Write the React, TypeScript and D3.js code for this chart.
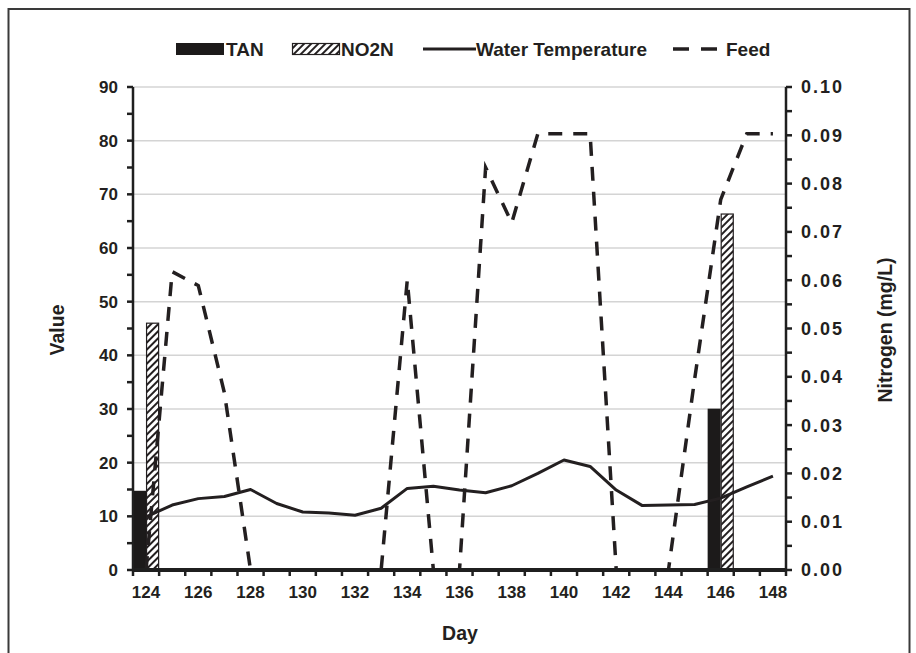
import * as d3 from "d3";
import { useEffect, useRef } from "react";

const days = [124, 125, 126, 127, 128, 129, 130, 131, 132, 133, 134, 135, 136, 137, 138, 139, 140, 141, 142, 143, 144, 145, 146, 147, 148];
const waterTemp = [9.9, 12.1, 13.3, 13.7, 15.0, 12.4, 10.8, 10.6, 10.2, 11.5, 15.2, 15.6, 14.9, 14.4, 15.7, 18.0, 20.5, 19.3, 14.9, 12.0, 12.1, 12.2, 13.4, 15.5, 17.5];
const feed = [0, 55.6, 53, 33, 0, 0, 0, 0, 0, 0, 54, 0, 0, 75, 64.7, 81.3, 81.3, 81.3, 0, 0, 0, 35.5, 69, 81.3, 81.3];
const barDays = [124, 146];
const tan = [0.0164, 0.0334];
const no2n = [0.0511, 0.0737];
const leftTicks = [0, 10, 20, 30, 40, 50, 60, 70, 80, 90];
const rightTicks = [0, 0.01, 0.02, 0.03, 0.04, 0.05, 0.06, 0.07, 0.08, 0.09, 0.1];
const dayLabels = [124, 126, 128, 130, 132, 134, 136, 138, 140, 142, 144, 146, 148];

const W = 916;
const H = 653;
const ink = "#231f20";
const font = "'Liberation Sans', Arial, sans-serif";

export default function App() {
  const svgRef = useRef<SVGSVGElement | null>(null);

  useEffect(() => {
    const margin = { top: 87, right: 130, bottom: 83, left: 133 };
    const svg = d3.select(svgRef.current);
    svg.selectAll("*").remove();

    const x = d3
      .scaleBand<number>()
      .domain(days)
      .range([margin.left, W - margin.right])
      .padding(0);
    const xSub = d3
      .scaleBand<string>()
      .domain(["TAN", "NO2N"])
      .range([0, x.bandwidth()])
      .padding(0);
    const yL = d3.scaleLinear().domain([0, 90]).range([H - margin.bottom, margin.top]);
    const yR = d3.scaleLinear().domain([0, 0.1]).range([H - margin.bottom, margin.top]);
    const cx = (d: number) => (x(d) as number) + x.bandwidth() / 2;

    // frame
    svg
      .append("rect")
      .attr("x", 8.5)
      .attr("y", 9)
      .attr("width", 901)
      .attr("height", 700)
      .attr("fill", "none")
      .attr("stroke", "#3a3a3a")
      .attr("stroke-width", 2);

    const defs = svg.append("defs");
    const pat = defs
      .append("pattern")
      .attr("id", "hatch")
      .attr("patternUnits", "userSpaceOnUse")
      .attr("width", 5)
      .attr("height", 5)
      .attr("patternTransform", "rotate(45)");
    pat.append("rect").attr("width", 5).attr("height", 5).attr("fill", "white");
    pat.append("line").attr("x1", 1).attr("x2", 1).attr("y1", 0).attr("y2", 5).attr("stroke", ink).attr("stroke-width", 2);

    // grid
    svg
      .append("g")
      .selectAll("line")
      .data(leftTicks.filter((d) => d > 0))
      .join("line")
      .attr("x1", margin.left)
      .attr("x2", W - margin.right)
      .attr("y1", (d) => yL(d))
      .attr("y2", (d) => yL(d))
      .attr("stroke", "#d4d4d4")
      .attr("stroke-width", 1.5);

    // bars
    const bars = svg.append("g");
    bars
      .selectAll(".tan")
      .data(barDays.map((d, i) => ({ day: d, v: tan[i] })))
      .join("rect")
      .attr("x", (d) => (x(d.day) as number) + (xSub("TAN") as number))
      .attr("width", xSub.bandwidth())
      .attr("y", (d) => yR(d.v))
      .attr("height", (d) => yR(0) - yR(d.v))
      .attr("fill", "#1c1a1a");
    bars
      .selectAll(".no2n")
      .data(barDays.map((d, i) => ({ day: d, v: no2n[i] })))
      .join("rect")
      .attr("x", (d) => (x(d.day) as number) + (xSub("NO2N") as number) + 0.5)
      .attr("width", xSub.bandwidth() - 1)
      .attr("y", (d) => yR(d.v))
      .attr("height", (d) => yR(0) - yR(d.v))
      .attr("fill", "url(#hatch)")
      .attr("stroke", ink)
      .attr("stroke-width", 1.2);

    // lines
    const line = d3
      .line<number>()
      .x((_, i) => cx(days[i]))
      .y((d) => yL(d));
    svg
      .append("path")
      .attr("d", line(waterTemp))
      .attr("fill", "none")
      .attr("stroke", ink)
      .attr("stroke-width", 3)
      .attr("stroke-linejoin", "round");
    svg
      .append("path")
      .attr("d", line(feed))
      .attr("fill", "none")
      .attr("stroke", ink)
      .attr("stroke-width", 3.5)
      .attr("stroke-dasharray", "14 11");

    // axes
    const axisColor = "#1f1f1f";
    const tickFont = (sel: any) =>
      sel.attr("font-family", font).attr("font-weight", "bold").attr("font-size", 17).attr("fill", ink);

    const xAxis = svg.append("g").attr("transform", `translate(0,${yL(0)})`);
    xAxis
      .selectAll("line.tick")
      .data([...days.map((d) => x(d) as number), W - margin.right])
      .join("line")
      .attr("x1", (d) => d)
      .attr("x2", (d) => d)
      .attr("y1", 0)
      .attr("y2", 6)
      .attr("stroke", axisColor)
      .attr("stroke-width", 2.5);
    xAxis
      .append("line")
      .attr("x1", margin.left - 1)
      .attr("x2", W - margin.right + 1)
      .attr("stroke", axisColor)
      .attr("stroke-width", 4);
    xAxis
      .selectAll("text")
      .data(dayLabels)
      .join("text")
      .attr("x", (d) => cx(d))
      .attr("y", 28)
      .attr("text-anchor", "middle")
      .call(tickFont)
      .text((d) => d);

    const minorL = d3.range(0, 91, 5);
    const lAxis = svg.append("g").attr("transform", `translate(${margin.left},0)`);
    lAxis
      .append("line")
      .attr("y1", yL(0))
      .attr("y2", yL(90))
      .attr("stroke", axisColor)
      .attr("stroke-width", 2.5);
    lAxis
      .selectAll("line.t")
      .data(minorL)
      .join("line")
      .attr("x1", -6)
      .attr("x2", 0)
      .attr("y1", (d) => yL(d))
      .attr("y2", (d) => yL(d))
      .attr("stroke", axisColor)
      .attr("stroke-width", 2.5);
    lAxis
      .selectAll("text")
      .data(leftTicks)
      .join("text")
      .attr("x", -15)
      .attr("y", (d) => yL(d))
      .attr("dy", "0.36em")
      .attr("text-anchor", "end")
      .call(tickFont)
      .text((d) => d);

    const minorR = d3.range(0, 21).map((i) => i * 0.005);
    const rAxis = svg.append("g").attr("transform", `translate(${W - margin.right},0)`);
    rAxis
      .append("line")
      .attr("y1", yR(0))
      .attr("y2", yR(0.1))
      .attr("stroke", axisColor)
      .attr("stroke-width", 2.5);
    rAxis
      .selectAll("line.t")
      .data(minorR)
      .join("line")
      .attr("x1", 0)
      .attr("x2", 6)
      .attr("y1", (d) => yR(d))
      .attr("y2", (d) => yR(d))
      .attr("stroke", axisColor)
      .attr("stroke-width", 2.5);
    rAxis
      .selectAll("text")
      .data(rightTicks)
      .join("text")
      .attr("x", 15)
      .attr("y", (d) => yR(d))
      .attr("dy", "0.36em")
      .attr("text-anchor", "start")
      .call(tickFont)
      .attr("font-size", 18)
      .attr("letter-spacing", 2)
      .text((d) => d3.format(".2f")(d));

    // titles
    const title = (t: string, tx: number, ty: number, rot: number) =>
      svg
        .append("text")
        .attr("transform", `translate(${tx},${ty}) rotate(${rot})`)
        .attr("text-anchor", "middle")
        .attr("font-family", font)
        .attr("font-weight", "bold")
        .attr("font-size", 19.5)
        .attr("fill", ink)
        .text(t);
    title("Value", 64, 330, -90);
    title("Nitrogen (mg/L)", 892, 330, -90);
    title("Day", 460, 640, 0);

    // legend
    const lg = svg.append("g").attr("font-family", font).attr("font-weight", "bold").attr("font-size", 19).attr("fill", ink);
    const ly = 49;
    lg.append("rect").attr("x", 176).attr("y", ly - 6).attr("width", 48).attr("height", 12).attr("fill", "#1c1a1a");
    lg.append("text").attr("x", 226).attr("y", ly + 7).text("TAN");
    lg.append("rect").attr("x", 292.5).attr("y", ly - 5.5).attr("width", 47).attr("height", 11).attr("fill", "url(#hatch)").attr("stroke", ink).attr("stroke-width", 1.2);
    lg.append("text").attr("x", 341).attr("y", ly + 7).text("NO2N");
    lg.append("line").attr("x1", 423).attr("x2", 476).attr("y1", ly).attr("y2", ly).attr("stroke", ink).attr("stroke-width", 3);
    lg.append("text").attr("x", 476).attr("y", ly + 7).text("Water Temperature");
    lg.append("line").attr("x1", 673).attr("x2", 717).attr("y1", ly).attr("y2", ly).attr("stroke", ink).attr("stroke-width", 3.5).attr("stroke-dasharray", "16 12");
    lg.append("text").attr("x", 726).attr("y", ly + 7).text("Feed");
  }, []);

  return (
    <svg
      ref={svgRef}
      width={W}
      height={H}
      style={{ position: "absolute", left: 0, top: 0, display: "block", background: "white" }}
    />
  );
}
